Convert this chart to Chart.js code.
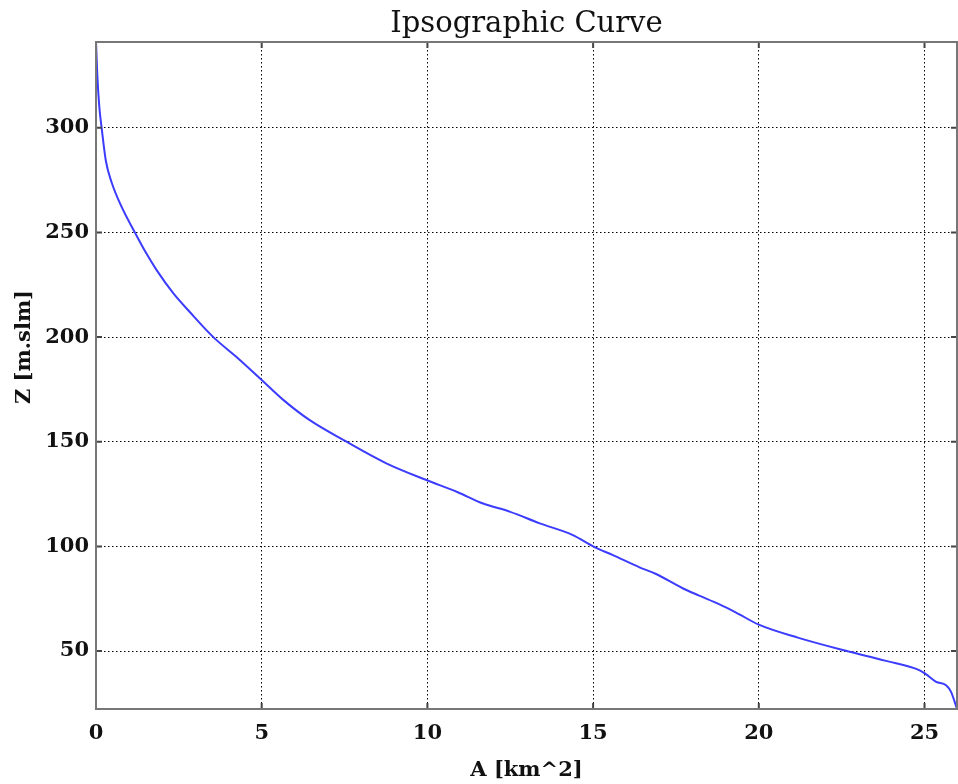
<!DOCTYPE html>
<html>
<head>
<meta charset="utf-8">
<script src="https://cdn.jsdelivr.net/npm/chart.js@4"></script>
<style>
    body { margin: 0; background: #fff; }
    #wrap { width: 958px; height: 784px; position: relative; }
</style>
</head>
<body>
<div id="wrap"><canvas id="ipso"></canvas></div>
<script>
/* ipsographic curve data: area (km^2) vs elevation (m slm) */
const areaKm2 = [0, 0.04, 0.1, 0.17, 0.3, 0.47, 0.77, 1.18, 1.5, 1.83, 2.33, 2.83, 3.54, 4.29,
    5.0, 5.65, 6.45, 7.56, 8.76, 9.97, 10.9, 11.68, 12.5, 13.39, 14.39, 15.0, 15.6, 16.4, 16.9, 17.7,
    18.2, 18.8, 19.3, 20.0, 21.2, 22.63, 23.84, 24.84, 25.04, 25.35, 25.65, 25.8, 25.9, 25.98];
const elevation = [341, 325, 310, 300, 284, 274, 262.3, 249.8, 240.5, 232, 221, 212, 200, 189.8,
    179.5, 170, 160.3, 150, 139.7, 131.7, 126, 120.5, 116.5, 111, 105.4, 100, 95.8, 90, 86.8, 80,
    76.5, 72.4, 68.5, 62.6, 56.3, 50.1, 45.3, 40.9, 39, 35.3, 33.7, 30.5, 26.2, 22.3];

const xTicks = [0, 5, 10, 15, 20, 25];
const yTicks = [50, 100, 150, 200, 250, 300];

const chartTitle = "Ipsographic Curve";
const xTitle = "A [km^2]";
const yTitle = "Z [m.slm]";

const serif = "'DejaVu Serif', serif";

const points = areaKm2.map((a, i) => ({ x: a, y: elevation[i] }));

// frame, inner tick marks and titles
const decorations = {
    id: "decorations",
    afterDraw(chart) {
        const ctx = chart.ctx;
        const area = chart.chartArea;
        const xs = chart.scales.x;
        const ys = chart.scales.y;
        ctx.save();
        ctx.strokeStyle = "#444";
        ctx.lineWidth = 2;
        ctx.beginPath();
        xTicks.forEach(v => {
            const px = xs.getPixelForValue(v);
            ctx.moveTo(px, area.bottom); ctx.lineTo(px, area.bottom - 6);
            ctx.moveTo(px, area.top); ctx.lineTo(px, area.top + 6);
        });
        yTicks.forEach(v => {
            const py = ys.getPixelForValue(v);
            ctx.moveTo(area.left, py); ctx.lineTo(area.left + 6, py);
            ctx.moveTo(area.right, py); ctx.lineTo(area.right - 6, py);
        });
        ctx.stroke();
        ctx.strokeStyle = "#777";
        ctx.lineWidth = 2;
        ctx.strokeRect(area.left, area.top, area.right - area.left, area.bottom - area.top);

        ctx.fillStyle = "#111";
        ctx.textAlign = "center";
        ctx.textBaseline = "alphabetic";
        ctx.font = "29px " + serif;
        ctx.fillText(chartTitle, (area.left + area.right) / 2, 32);

        ctx.font = "bold 21px " + serif;
        ctx.fillText(xTitle, (area.left + area.right) / 2, 776);

        ctx.translate(30, 347);
        ctx.rotate(-Math.PI / 2);
        ctx.fillText(yTitle, 0, 0);
        ctx.restore();
    }
};

new Chart(document.getElementById("ipso"), {
    type: "line",
    data: {
        datasets: [
            {
                data: points,
                borderColor: "rgb(60, 60, 255)",
                borderWidth: 2,
                pointRadius: 0,
                fill: false,
                cubicInterpolationMode: "monotone",
            },
        ],
    },
    options: {
        responsive: true,
        maintainAspectRatio: false,
        animation: false,
        layout: {
            padding: { top: 42, right: 1, left: 0, bottom: 0 },
        },
        plugins: {
            legend: { display: false },
            tooltip: { enabled: false },
        },
        scales: {
            x: {
                type: "linear",
                min: 0,
                max: 25.98,
                afterBuildTicks: scale => { scale.ticks = xTicks.map(v => ({ value: v })); },
                afterFit: scale => { scale.height = 75; },
                grid: {
                    color: "#000",
                    lineWidth: 1,
                    drawTicks: false,
                },
                border: { display: false, dash: [1.5, 2.5] },
                ticks: {
                    padding: 12,
                    color: "#111",
                    font: { family: serif, size: 21, weight: "bold" },
                },
            },
            y: {
                type: "linear",
                min: 22.3,
                max: 341,
                afterBuildTicks: scale => { scale.ticks = yTicks.map(v => ({ value: v })); },
                afterFit: scale => { scale.width = 96; },
                grid: {
                    color: "#000",
                    lineWidth: 1,
                    drawTicks: false,
                },
                border: { display: false, dash: [1.5, 2.5] },
                ticks: {
                    padding: 7,
                    color: "#111",
                    font: { family: serif, size: 21, weight: "bold" },
                },
            },
        },
    },
    plugins: [decorations],
});
</script>
</body>
</html>
